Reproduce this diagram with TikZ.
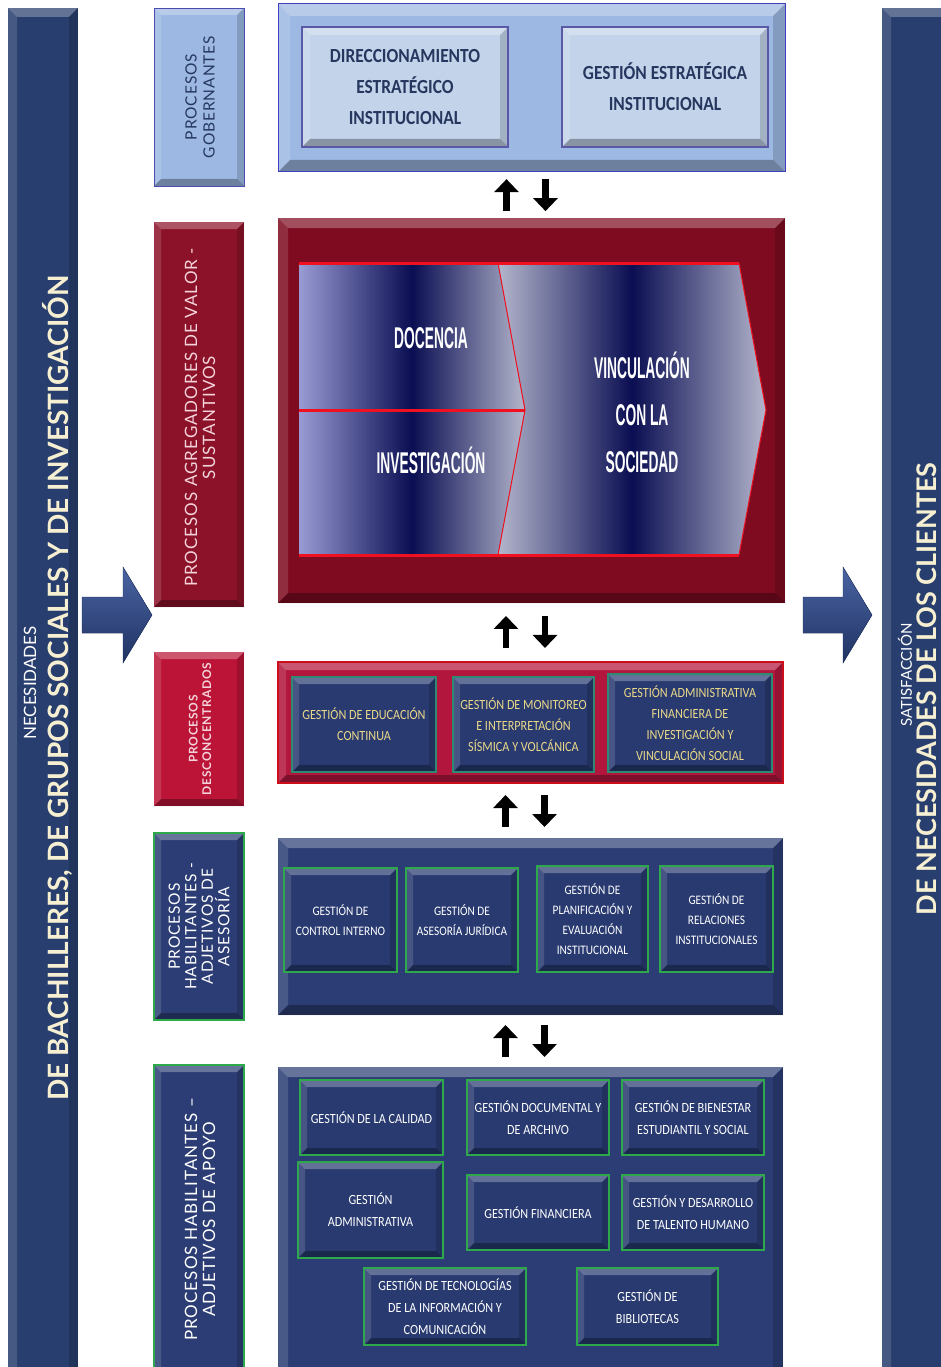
\documentclass[tikz,border=0pt]{standalone}
\usepackage{fontspec}
\setmainfont{Carlito}
\newfontfamily\boxfont[FakeStretch=0.87]{Carlito}
\newfontfamily\condfont[FakeStretch=0.46]{Liberation Sans}
\newfontfamily\sidefont[LetterSpace=6]{Lato}
\newfontfamily\barfont{Lato}
\usetikzlibrary{arrows.meta,fit,calc}

\definecolor{barblue}{HTML}{283E6E}
\definecolor{navytext}{HTML}{26375F}
\definecolor{lightblue}{HTML}{9DB9E3}
\definecolor{paleblue}{HTML}{C3D3EA}
\definecolor{maroon}{HTML}{7E0B20}
\definecolor{wine}{HTML}{8C1229}
\definecolor{crimson}{HTML}{B3163D}
\definecolor{brightred}{HTML}{F01020}
\definecolor{boxnavy}{HTML}{2B3D74}
\definecolor{innernavy}{HTML}{283A70}
\definecolor{okgreen}{HTML}{2DA84A}
\definecolor{tealline}{HTML}{2E8B72}
\definecolor{gold}{HTML}{EBD88A}
\definecolor{lavender}{HTML}{B4B6CC}
\definecolor{deepnavy}{HTML}{0A0E52}
\definecolor{cream}{HTML}{F6EFD2}
\definecolor{pinkwhite}{HTML}{F4D3DA}
\definecolor{arrowlight}{HTML}{4A64A2}
\definecolor{arrowdark}{HTML}{1F3263}

\begin{document}
\begin{tikzpicture}[x=1pt,y=-1pt,
  bevel/.style={path picture={
    \path (path picture bounding box.north west) coordinate (pNW)
          (path picture bounding box.north east) coordinate (pNE)
          (path picture bounding box.south west) coordinate (pSW)
          (path picture bounding box.south east) coordinate (pSE);
    \fill[white,opacity=.28] (pNW) -- (pNE) -- ([xshift=-#1,yshift=-#1]pNE) -- ([xshift=#1,yshift=-#1]pNW) -- cycle;
    \fill[white,opacity=.14] (pNW) -- ([xshift=#1,yshift=-#1]pNW) -- ([xshift=#1,yshift=#1]pSW) -- (pSW) -- cycle;
    \fill[black,opacity=.30] (pSW) -- ([xshift=#1,yshift=#1]pSW) -- ([xshift=-#1,yshift=#1]pSE) -- (pSE) -- cycle;
    \fill[black,opacity=.16] (pNE) -- (pSE) -- ([xshift=-#1,yshift=#1]pSE) -- ([xshift=-#1,yshift=-#1]pNE) -- cycle;
  }},
  bevel/.default=7pt,
  bar/.style={inner sep=0pt, fill=barblue, bevel=9pt},
  sidebox/.style={inner sep=0pt, bevel=7pt},
  bigbox/.style={inner sep=0pt, bevel=10pt},
  govbox/.style={inner sep=0pt, fill=paleblue, draw=gray!70!blue, line width=1.2pt, bevel=8pt},
  govtext/.style={align=center, text=navytext, font=\boxfont\bfseries\fontsize{20}{31}\selectfont},
  redbox/.style={inner sep=0pt, fill=innernavy, draw=tealline, line width=1.2pt, bevel=7pt},
  redtext/.style={align=center, text=gold, font=\boxfont\fontsize{14}{21}\selectfont},
  bluebox/.style={inner sep=0pt, fill=innernavy, draw=okgreen, line width=2pt, bevel=7pt},
  bluetext/.style={align=center, text=white, font=\boxfont\fontsize{14}{22}\selectfont},
  smalltext/.style={bluetext, font=\boxfont\fontsize{13}{20}\selectfont},
  sidetext/.style={rotate=90, align=center, font=\sidefont\fontsize{15.5}{18}\selectfont},
  valtext/.style={align=center, text=white, font=\condfont\bfseries\fontsize{30}{47}\selectfont},
  updown/.style={line width=6.5pt, -{Triangle[width=24pt,length=13pt]}}]

\useasboundingbox (0,0) rectangle (941,1367);
\clip (0,0) rectangle (941,1367);

% barras laterales
\node[bar, fit={(8,8) (78,1385)}] (entrada) {};
\node[bar, fit={(882,8) (955,1385)}] (salida) {};
\node[rotate=90, text=white, font=\barfont\fontsize{17}{18}\selectfont] (nec) at (30,683) {NECESIDADES};
\node[rotate=90, text=cream, font=\barfont\bfseries\fontsize{28}{30}\selectfont] (necb) at (57,688) {DE BACHILLERES, DE GRUPOS SOCIALES Y DE INVESTIGACIÓN};
\node[rotate=90, text=white, font=\barfont\fontsize{15}{18}\selectfont] (sat) at (905,675) {SATISFACCIÓN};
\node[rotate=90, text=cream, font=\barfont\bfseries\fontsize{27}{30}\selectfont] (satb) at (927,689) {DE NECESIDADES DE LOS CLIENTES};

% flechas de bloque
\fill[top color=arrowlight, bottom color=arrowdark, draw=arrowdark] (82,597) -- (123,597) -- (123,567) -- (152,615) -- (123,663) -- (123,633) -- (82,633) -- cycle;
\fill[top color=arrowlight, bottom color=arrowdark, draw=arrowdark] (803,597) -- (843,597) -- (843,567) -- (872,615) -- (843,663) -- (843,633) -- (803,633) -- cycle;

% etiquetas de procesos
\node[sidebox, fill=lightblue, draw=gray!60!blue, fit={(154,8) (244,186)}] (L1) {};
\node[sidebox, fill=wine, fit={(154,222) (244,607)}] (L2) {};
\node[sidebox, fill=crimson!90!red, fit={(154,652) (244,806)}] (L3) {};
\node[sidebox, fill=boxnavy, draw=okgreen, line width=2.5pt, fit={(154,833) (244,1020)}] (L4) {};
\node[sidebox, fill=boxnavy, draw=okgreen, line width=2.5pt, fit={(154,1065) (244,1390)}] (L5) {};

\node[sidetext, text=navytext] (L1t) at ([xshift=1pt]L1) {PROCESOS\\GOBERNANTES};
\node[sidetext, text=pinkwhite, font=\sidefont\fontsize{17}{18}\selectfont] (L2t) at ([xshift=1pt,yshift=-3pt]L2) {PROCESOS AGREGADORES DE VALOR -\\SUSTANTIVOS};
\node[sidetext, text=pinkwhite, font=\sidefont\bfseries\fontsize{12}{13.5}\selectfont] (L3t) at ([xshift=1pt]L3) {PROCESOS\\DESCONCENTRADOS};
\node[sidetext, text=white, font=\sidefont\fontsize{15.5}{16.5}\selectfont] (L4t) at (L4) {PROCESOS\\HABILITANTES -\\ADJETIVOS DE\\ASESORÍA};
\node[sidetext, text=white, font=\sidefont\fontsize{17}{18}\selectfont] (L5t) at ([xshift=1pt,yshift=8pt]L5) {PROCESOS HABILITANTES –\\ADJETIVOS DE APOYO};

% bloques de contenido
\node[bigbox, fill=lightblue, draw=gray!50!blue, line width=1pt, bevel=12pt, fit={(278,4) (785,172)}] (C1) {};
\node[bigbox, fill=maroon, fit={(278,218) (785,603)}] (C2) {};
\node[bigbox, fill=crimson, draw=brightred!85!black, line width=2.5pt, bevel=8pt, fit={(278,662) (783,783)}] (C3) {};
\node[bigbox, fill=boxnavy, fit={(278,838) (783,1015)}] (C4) {};
\node[bigbox, fill=boxnavy, fit={(278,1067) (783,1385)}] (C5) {};

% gobernantes
\node[govbox, fit={(302,27) (508,147)}, label={[govtext, name=dirt]center:{DIRECCIONAMIENTO\\ESTRATÉGICO\\INSTITUCIONAL}}] (dir) {};
\node[govbox, fit={(562,27) (768,147)}, label={[govtext, name=gestt]center:{GESTIÓN ESTRATÉGICA\\INSTITUCIONAL}}] (gest) {};

% sustantivos
\fill[left color=lavender!85!blue, right color=lavender, middle color=deepnavy] (299,263) -- (498,263) -- (525,410) -- (299,410) -- cycle;
\fill[left color=lavender!85!blue, right color=lavender, middle color=deepnavy] (299,410) -- (525,410) -- (498,555) -- (299,555) -- cycle;
\fill[left color=lavender, right color=lavender, middle color=deepnavy] (498,263) -- (739,263) -- (766,410) -- (739,555) -- (498,555) -- (525,410) -- cycle;
\draw[brightred, line width=1pt] (498,263) -- (525,410) -- (498,555) (739,263) -- (766,410) -- (739,555);
\draw[brightred, line width=3pt] (299,263) -- (739,263) (299,555) -- (739,555) (299,410) -- (525,410);
\node[valtext] (doc) at (431,338) {DOCENCIA};
\node[valtext] (inv) at (431,460) {INVESTIGACIÓN};
\node[valtext] (vinc) at (642,412) {VINCULACIÓN\\CON LA\\SOCIEDAD};

% desconcentrados
\node[redbox, fit={(292,677) (436,772)}, label={[redtext, name=educt]center:{GESTIÓN DE EDUCACIÓN\\CONTINUA}}] (educ) {};
\node[redbox, fit={(453,677) (594,772)}, label={[redtext, name=monit]center:{GESTIÓN DE MONITOREO\\E INTERPRETACIÓN\\SÍSMICA Y VOLCÁNICA}}] (moni) {};
\node[redbox, fit={(608,674) (772,772)}, label={[redtext, name=admfint]center:{GESTIÓN ADMINISTRATIVA\\FINANCIERA DE\\INVESTIGACIÓN Y\\VINCULACIÓN SOCIAL}}] (admfin) {};

% asesoria
\node[bluebox, fit={(284,868) (397,972)}, label={[smalltext, name=ctrlt]center:{GESTIÓN DE\\CONTROL INTERNO}}] (ctrl) {};
\node[bluebox, fit={(406,868) (518,972)}, label={[smalltext, name=asesot]center:{GESTIÓN DE\\ASESORÍA JURÍDICA}}] (aseso) {};
\node[bluebox, fit={(537,866) (648,972)}, label={[smalltext, name=plant]center:{GESTIÓN DE\\PLANIFICACIÓN Y\\EVALUACIÓN\\INSTITUCIONAL}}] (plan) {};
\node[bluebox, fit={(660,866) (773,972)}, label={[smalltext, name=relact]center:{GESTIÓN DE\\RELACIONES\\INSTITUCIONALES}}] (relac) {};

% apoyo
\node[bluebox, fit={(300,1080) (443,1155)}, label={[bluetext, name=calt]center:{GESTIÓN DE LA CALIDAD}}] (cal) {};
\node[bluebox, fit={(467,1080) (609,1155)}, label={[bluetext, name=docut]center:{GESTIÓN DOCUMENTAL Y\\DE ARCHIVO}}] (docu) {};
\node[bluebox, fit={(622,1080) (764,1155)}, label={[bluetext, name=bient]center:{GESTIÓN DE BIENESTAR\\ESTUDIANTIL Y SOCIAL}}] (bien) {};
\node[bluebox, fit={(298,1162) (443,1258)}, label={[bluetext, name=admt]center:{GESTIÓN\\ADMINISTRATIVA}}] (adm) {};
\node[bluebox, fit={(467,1175) (609,1250)}, label={[bluetext, name=fint]center:{GESTIÓN FINANCIERA}}] (fin) {};
\node[bluebox, fit={(622,1175) (764,1250)}, label={[bluetext, name=talt]center:{GESTIÓN Y DESARROLLO\\DE TALENTO HUMANO}}] (tal) {};
\node[bluebox, fit={(364,1268) (526,1345)}, label={[bluetext, name=tict]center:{GESTIÓN DE TECNOLOGÍAS\\DE LA INFORMACIÓN Y\\COMUNICACIÓN}}] (tic) {};
\node[bluebox, fit={(577,1268) (718,1345)}, label={[bluetext, name=bibt]center:{GESTIÓN DE\\BIBLIOTECAS}}] (bib) {};

% flechas entre niveles
\foreach \a/\b in {C1/C2,C2/C3,C3/C4,C4/C5}{
  \coordinate (m) at ($(\a.south)!0.5!(\b.north)$);
  \draw[updown] ([xshift=-25pt,yshift=-16pt]m) -- ([xshift=-25pt,yshift=16pt]m);
  \draw[updown] ([xshift=14pt,yshift=16pt]m) -- ([xshift=14pt,yshift=-16pt]m);
}

\end{tikzpicture}
\end{document}
